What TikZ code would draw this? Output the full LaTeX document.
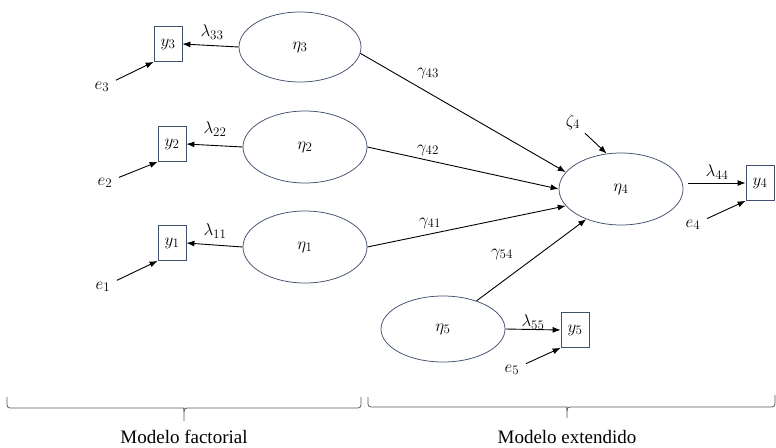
\RequirePackage{fix-cm}
\documentclass[tikz,border=0pt]{standalone}
\usepackage{fontspec}
\setmainfont{Liberation Serif}
\DeclareMathSizes{17}{17}{13}{10}
\usetikzlibrary{arrows.meta,shapes.geometric}
\definecolor{edgec}{RGB}{65,80,110}
\begin{document}
\begin{tikzpicture}[x=1pt,y=-1pt,
  lat/.style={ellipse,draw=edgec,line width=0.75pt,inner sep=0pt,font=\fontsize{17}{20}\selectfont},
  obs/.style={rectangle,draw=edgec,line width=0.75pt,minimum width=28pt,minimum height=35pt,inner sep=0pt,font=\fontsize{17}{20}\selectfont},
  arr/.style={-{Latex[length=8pt,width=6pt]},line width=0.9pt},
  lab/.style={inner sep=1pt,font=\fontsize{17}{20}\selectfont},
  brc/.style={draw=black!65,line width=0.8pt},
  captext/.style={inner sep=0pt,anchor=base,font=\fontsize{19}{22}\selectfont}]
\useasboundingbox (0,0) rectangle (776,447);
% latent variables
\node[lat,minimum width=122pt,minimum height=70pt] (eta3) at (300,47) {$\eta_3$};
\node[lat,minimum width=124pt,minimum height=72pt] (eta2) at (305,147) {$\eta_2$};
\node[lat,minimum width=124pt,minimum height=72pt] (eta1) at (305,247) {$\eta_1$};
\node[lat,minimum width=124pt,minimum height=72pt] (eta4) at (621,189) {$\eta_4$};
\node[lat,minimum width=124pt,minimum height=66pt] (eta5) at (443,329) {$\eta_5$};
% observed
\node[obs] (y3) at (168,44) {$y_3$};
\node[obs] (y2) at (172,144) {$y_2$};
\node[obs] (y1) at (172,243) {$y_1$};
\node[obs] (y4) at (760,183) {$y_4$};
\node[obs] (y5) at (575,330) {$y_5$};
% labels
\node[lab] (l33) at (212,32) {$\lambda_{33}$};
\node[lab] (l22) at (215,129) {$\lambda_{22}$};
\node[lab] (l11) at (215,231) {$\lambda_{11}$};
\node[lab] (l44) at (717,172) {$\lambda_{44}$};
\node[lab] (l55) at (533,322) {$\lambda_{55}$};
\node[lab] (e3) at (102,87) {$e_3$};
\node[lab] (e2) at (105,183) {$e_2$};
\node[lab] (e1) at (103,287) {$e_1$};
\node[lab] (e4) at (693,225) {$e_4$};
\node[lab] (e5) at (512,370) {$e_5$};
\node[lab] (z4) at (573,122) {$\zeta_4$};
\node[lab] (g43) at (428,73) {$\gamma_{43}$};
\node[lab] (g42) at (428,150) {$\gamma_{42}$};
\node[lab] (g41) at (430,223) {$\gamma_{41}$};
\node[lab] (g54) at (502,254) {$\gamma_{54}$};
% loadings
\draw[arr] (eta3.west) -- (y3.east);
\draw[arr] (eta2.west) -- (y2.east);
\draw[arr] (eta1.west) -- (y1.east);
\draw[arr,shorten <=5pt] (eta4.east |- y4.west) -- (y4.west);
\draw[arr] (eta5.east) -- (y5.west);
% errors
\draw[arr,shorten <=6pt] (e3) -- (y3.south west);
\draw[arr,shorten <=6pt] (e2) -- (y2.south west);
\draw[arr,shorten <=6pt] (e1) -- (y1.south west);
\draw[arr,shorten <=6pt] (e4) -- (y4.south west);
\draw[arr,shorten <=6pt] (e5) -- (y5.south west);
\draw[arr,shorten <=5pt] (z4) -- (eta4.112);
% structural
\draw[arr] (eta3.-6) -- (eta4.163);
\draw[arr] (eta2.east) -- (eta4.west);
\draw[arr] (eta1.east) -- (eta4.197);
\draw[arr] (eta5.40) -- (eta4.221);
% braces
\draw[brc] (7,397) [rounded corners=3pt] -- (7,408) -- (181,408) [sharp corners] .. controls (183.5,408) and (184,409.5) .. (184,412) -- (184,421);
\draw[brc] (184,412) .. controls (184,409.5) and (184.5,408) .. (187,408) [rounded corners=3pt] -- (361,408) -- (361,397);
\draw[brc] (368,397) [rounded corners=3pt] -- (368,407) -- (564,407) [sharp corners] .. controls (566.5,407) and (567,408.5) .. (567,411) -- (567,418);
\draw[brc] (567,411) .. controls (567,408.5) and (567.5,407) .. (570,407) [rounded corners=3pt] -- (775,407) -- (775,395);
\node[captext] (c1) at (184,443) {Modelo factorial};
\node[captext] (c2) at (567,443) {Modelo extendido};
\end{tikzpicture}
\end{document}
